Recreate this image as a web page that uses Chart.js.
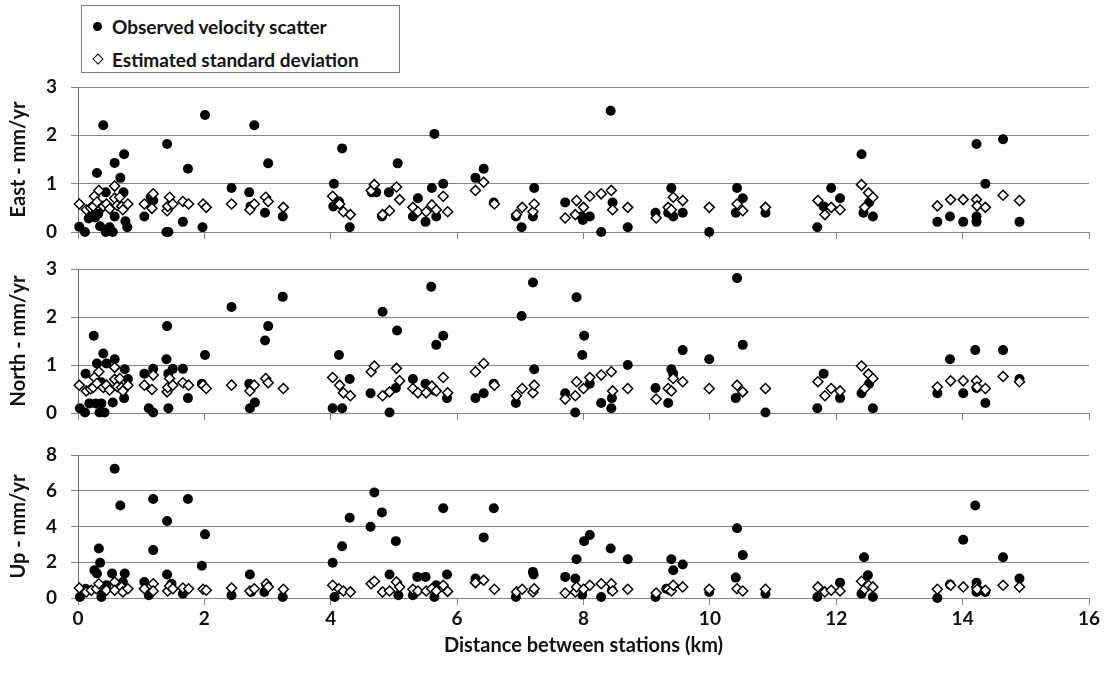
<!DOCTYPE html>
<html>
<head>
<meta charset="utf-8">
<script src="https://cdn.jsdelivr.net/npm/chart.js@4.4.1/dist/chart.umd.min.js"></script>
<style>
  body { margin: 0; background: #fff; width: 1105px; height: 678px; position: relative; overflow: hidden; font-family: Lato, sans-serif; }
  .panel { position: absolute; left: 0; width: 1105px; }
  #legend { position: absolute; left: 81px; top: 5px; width: 319px; height: 68px; border: 1px solid #808080; box-sizing: border-box; font-weight: bold; font-size: 19px; color: #111; }
  .row { position: absolute; left: 30px; line-height: 22px; white-space: nowrap; }
  .dot { position: absolute; left: 11px; width: 9px; height: 9px; border-radius: 50%; background: #000; }
  .dia { position: absolute; left: 12px; width: 6px; height: 6px; border: 1.5px solid #000; background: #fff; transform: rotate(45deg); }
</style>
</head>
<body>
<div id="legend">
  <div class="dot" style="top:16px"></div><div class="row" style="top:10px">Observed velocity scatter</div>
  <div class="dia" style="top:49px"></div><div class="row" style="top:43px">Estimated standard deviation</div>
</div>
<canvas id="east" class="panel" style="top:61px" width="1105" height="197"></canvas>
<canvas id="north" class="panel" style="top:243px" width="1105" height="196"></canvas>
<canvas id="up" class="panel" style="top:429px" width="1105" height="249"></canvas>
<script>
// [distance km, mm/yr]
const eastObs = [
  [0.02,0.11],[0.11,0.0],[0.17,0.28],[0.22,0.35],[0.27,0.30],[0.30,1.22],[0.32,0.38],[0.35,0.12],[0.40,2.21],[0.44,0.82],
  [0.44,0.0],[0.50,0.10],[0.55,0.0],[0.58,1.43],[0.58,0.32],[0.67,1.12],[0.72,0.82],[0.73,1.61],[0.75,0.22],[0.78,0.10],
  [1.05,0.32],[1.15,0.72],[1.19,0.65],[1.40,0.0],[1.43,0.0],[1.41,1.82],[1.66,0.21],[1.74,1.31],[1.97,0.10],[2.01,2.42],
  [2.43,0.91],[2.71,0.82],[2.73,0.53],[2.79,2.21],[2.96,0.40],[3.01,1.42],[3.24,0.32],
  [4.05,1.0],[4.04,0.53],[4.13,0.63],[4.18,1.73],[4.30,0.10],[4.65,0.82],[4.72,0.82],[4.81,0.32],[4.92,0.82],[5.06,1.42],
  [5.30,0.32],[5.38,0.70],[5.50,0.21],[5.60,0.91],[5.64,2.03],[5.67,0.32],[5.78,1.0],
  [6.29,1.12],[6.42,1.31],[6.58,0.61],[6.93,0.32],[7.02,0.10],[7.20,0.32],[7.22,0.91],
  [7.71,0.61],[7.97,0.32],[7.99,0.25],[8.10,0.32],[8.28,0.0],[8.43,2.51],[8.46,0.61],[8.70,0.10],
  [9.14,0.40],[9.34,0.40],[9.39,0.91],[9.42,0.32],[9.57,0.40],[9.99,0.0],
  [10.41,0.40],[10.43,0.91],[10.52,0.70],[10.88,0.40],
  [11.70,0.10],[11.80,0.53],[11.92,0.91],[12.06,0.70],[12.40,1.61],[12.43,0.40],[12.52,0.61],[12.58,0.32],
  [13.60,0.21],[13.80,0.32],[14.01,0.21],[14.22,1.82],[14.22,0.32],[14.22,0.21],[14.36,1.0],[14.64,1.92],[14.90,0.21]
];
const northObs = [
  [0.03,0.10],[0.11,0.01],[0.12,0.82],[0.18,0.20],[0.25,1.61],[0.28,0.20],[0.30,1.03],[0.34,0.01],[0.37,0.20],[0.37,0.64],
  [0.40,1.24],[0.42,0.01],[0.45,1.03],[0.55,0.22],[0.58,1.12],[0.73,0.31],[0.74,0.91],[0.79,0.71],
  [1.05,0.82],[1.12,0.10],[1.19,0.92],[1.19,0.01],[1.40,1.12],[1.41,1.81],[1.43,0.82],[1.43,0.10],[1.50,0.92],[1.66,0.92],
  [1.74,0.31],[1.96,0.61],[2.01,1.21],
  [2.43,2.21],[2.71,0.61],[2.72,0.10],[2.80,0.22],[2.96,1.51],[3.01,1.81],[3.24,2.42],
  [4.03,0.10],[4.13,1.21],[4.18,0.10],[4.30,0.71],[4.63,0.41],[4.82,2.11],[4.93,0.01],[5.03,0.52],[5.05,1.72],
  [5.30,0.71],[5.50,0.61],[5.59,2.63],[5.64,0.47],[5.67,1.42],[5.78,1.61],[5.84,0.31],
  [6.29,0.31],[6.42,0.41],[6.58,0.61],[6.93,0.21],[7.02,2.02],[7.20,2.72],[7.22,0.91],
  [7.71,0.41],[7.87,0.01],[7.89,2.41],[7.98,1.21],[8.01,1.61],[8.10,0.61],[8.28,0.21],[8.44,0.10],[8.45,0.31],[8.70,1.0],
  [9.14,0.52],[9.34,0.21],[9.39,0.91],[9.42,0.82],[9.57,1.31],[9.99,1.12],
  [10.41,0.31],[10.43,2.81],[10.52,1.42],[10.88,0.01],
  [11.70,0.10],[11.80,0.82],[12.06,0.31],[12.40,0.41],[12.52,0.61],[12.58,0.10],
  [13.60,0.41],[13.80,1.12],[14.01,0.41],[14.20,1.31],[14.22,0.52],[14.36,0.21],[14.64,1.31],[14.90,0.71]
];
// estimated standard deviation, horizontal components (same in East and North)
const horizSd = [
  [0.02,0.58],[0.13,0.46],[0.20,0.50],[0.24,0.53],[0.26,0.74],[0.30,0.62],[0.33,0.86],[0.40,0.53],[0.45,0.58],[0.50,0.48],
  [0.58,0.95],[0.58,0.70],[0.62,0.55],[0.66,0.72],[0.69,0.53],[0.71,0.46],[0.79,0.58],
  [1.05,0.58],[1.17,0.49],[1.19,0.79],[1.41,0.44],[1.42,0.53],[1.45,0.72],[1.50,0.58],[1.66,0.63],[1.75,0.58],[1.98,0.58],[2.03,0.51],
  [2.43,0.58],[2.72,0.46],[2.79,0.58],[2.97,0.72],[3.01,0.63],[3.25,0.51],
  [4.03,0.74],[4.14,0.58],[4.20,0.42],[4.31,0.36],[4.64,0.86],[4.69,0.98],[4.82,0.36],[4.93,0.44],[5.04,0.93],[5.09,0.67],
  [5.30,0.51],[5.38,0.42],[5.51,0.42],[5.60,0.56],[5.67,0.46],[5.78,0.74],[5.85,0.42],
  [6.29,0.86],[6.42,1.03],[6.59,0.58],[6.94,0.36],[7.03,0.51],[7.20,0.42],[7.22,0.58],
  [7.71,0.29],[7.87,0.36],[7.89,0.65],[8.00,0.51],[8.10,0.74],[8.28,0.79],[8.44,0.86],[8.46,0.46],[8.70,0.51],
  [9.15,0.29],[9.34,0.51],[9.39,0.46],[9.42,0.72],[9.57,0.65],[9.99,0.51],
  [10.43,0.58],[10.52,0.44],[10.88,0.51],
  [11.71,0.65],[11.82,0.36],[11.92,0.51],[12.06,0.46],[12.40,0.98],[12.45,0.51],[12.51,0.81],[12.58,0.72],
  [13.60,0.54],[13.81,0.67],[14.01,0.67],[14.22,0.67],[14.23,0.54],[14.36,0.51],[14.64,0.76],[14.90,0.65]
];
const upObs = [
  [0.03,0.06],[0.12,0.52],[0.26,1.55],[0.30,1.37],[0.33,2.77],[0.35,1.97],[0.37,0.06],[0.40,0.34],[0.45,0.71],[0.54,1.37],
  [0.58,7.23],[0.67,5.17],[0.71,0.90],[0.74,1.37],[0.76,0.52],
  [1.05,0.90],[1.12,0.15],[1.19,5.54],[1.19,2.68],[1.41,4.31],[1.41,1.31],[1.48,0.80],[1.66,0.24],[1.74,5.54],[1.96,1.80],[2.01,3.56],
  [2.43,0.15],[2.72,1.31],[2.74,0.34],[2.95,0.34],[2.98,0.71],[3.24,0.06],
  [4.03,1.97],[4.06,0.06],[4.18,2.90],[4.30,4.49],[4.63,3.99],[4.69,5.90],[4.81,4.79],[4.93,1.31],[5.03,3.18],[5.07,0.15],
  [5.30,0.15],[5.37,1.18],[5.50,1.18],[5.64,0.06],[5.67,0.71],[5.78,5.02],[5.84,1.31],
  [6.29,1.09],[6.42,3.39],[6.58,5.02],[6.93,0.06],[7.20,1.46],[7.21,1.31],
  [7.71,1.18],[7.87,1.09],[7.89,2.17],[7.98,0.19],[8.01,3.18],[8.10,3.52],[8.28,0.06],[8.43,2.77],[8.45,0.43],[8.70,2.17],
  [9.14,0.06],[9.31,0.52],[9.39,2.17],[9.42,1.55],[9.57,1.87],[9.99,0.34],
  [10.41,1.14],[10.43,3.90],[10.52,2.40],[10.88,0.24],
  [11.70,0.06],[12.06,0.86],[12.40,0.24],[12.44,2.28],[12.50,1.27],[12.58,0.06],
  [13.60,0.0],[13.80,0.75],[14.01,3.26],[14.20,5.17],[14.22,0.86],[14.22,0.34],[14.36,0.34],[14.64,2.28],[14.90,1.09]
];
const upSd = [
  [0.02,0.56],[0.13,0.34],[0.21,0.43],[0.29,0.52],[0.33,0.80],[0.45,0.43],[0.58,0.90],[0.58,0.43],[0.69,0.62],[0.71,0.34],[0.79,0.52],
  [1.05,0.52],[1.19,0.80],[1.19,0.39],[1.42,0.39],[1.45,0.67],[1.50,0.52],[1.66,0.56],[1.75,0.52],[1.98,0.49],[2.03,0.43],
  [2.43,0.56],[2.72,0.39],[2.79,0.52],[2.98,0.80],[3.01,0.62],[3.25,0.49],
  [4.03,0.71],[4.13,0.52],[4.20,0.39],[4.31,0.34],[4.64,0.80],[4.69,0.94],[4.82,0.34],[4.93,0.39],[5.04,0.90],[5.09,0.62],
  [5.30,0.49],[5.38,0.39],[5.51,0.39],[5.60,0.52],[5.67,0.39],[5.78,0.71],[5.85,0.37],
  [6.29,0.86],[6.42,0.99],[6.59,0.49],[6.94,0.34],[7.03,0.49],[7.20,0.34],[7.22,0.52],
  [7.71,0.28],[7.87,0.34],[7.89,0.62],[8.00,0.49],[8.10,0.71],[8.28,0.80],[8.44,0.80],[8.46,0.39],[8.70,0.49],
  [9.15,0.28],[9.34,0.49],[9.39,0.39],[9.42,0.71],[9.57,0.62],[9.99,0.49],
  [10.43,0.52],[10.52,0.39],[10.88,0.49],
  [11.71,0.62],[11.82,0.34],[11.92,0.43],[12.06,0.39],[12.40,0.94],[12.45,0.49],[12.51,0.71],[12.58,0.62],
  [13.60,0.49],[13.81,0.71],[14.01,0.62],[14.22,0.62],[14.23,0.49],[14.36,0.43],[14.64,0.71],[14.90,0.62]
];

const font = 'Lato, sans-serif';
const gridColor = '#868686';

function toXY(pairs) {
  return pairs.map(p => ({ x: p[0], y: p[1] }));
}

// y tick label half height (12) + tick padding (14) = 26px kept above and below each plot
function makePanel(id, yTitle, yMax, yStep, obs, sd, bottom) {
  new Chart(id, {
    type: 'scatter',
    data: {
      datasets: [{
        label: 'Estimated standard deviation',
        data: toXY(sd),
        pointStyle: 'rectRot',
        pointRadius: 5,
        backgroundColor: '#fff',
        borderColor: '#000',
        borderWidth: 1.5,
        clip: false,
        order: 1
      }, {
        label: 'Observed velocity scatter',
        data: toXY(obs),
        pointStyle: 'circle',
        pointRadius: 5,
        backgroundColor: '#000',
        borderColor: '#000',
        borderWidth: 0,
        clip: false,
        order: 2
      }]
    },
    options: {
      responsive: false,
      animation: false,
      layout: { padding: { top: 0, right: 16, left: 0, bottom: 0 } },
      plugins: { legend: { display: false }, tooltip: { enabled: false } },
      scales: {
        x: {
          type: 'linear',
          min: 0,
          max: 16,
          afterFit: s => { s.height = bottom ? 80 : 14; },
          ticks: { display: bottom, stepSize: 2, padding: 2, color: '#111', font: { family: font, size: 19, weight: 'bold' } },
          grid: { drawOnChartArea: false, drawTicks: true, tickLength: 7, color: gridColor },
          border: { color: gridColor },
          title: {
            display: bottom,
            text: 'Distance between stations (km)',
            color: '#111',
            padding: { top: 0, bottom: 20 },
            font: { family: font, size: 20, weight: 'bold' }
          }
        },
        y: {
          min: 0,
          max: yMax,
          afterFit: s => { s.width = 78; },
          ticks: { stepSize: yStep, padding: 14, color: '#111', font: { family: font, size: 19, weight: 'bold', lineHeight: '24px' } },
          grid: { color: gridColor, tickLength: 7 },
          border: { color: '#6a6a6a' },
          title: {
            display: true,
            text: yTitle,
            color: '#111',
            padding: { top: 7, bottom: 0 },
            font: { family: font, size: 20, weight: 'bold' }
          }
        }
      }
    }
  });
}

makePanel('east', 'East - mm/yr', 3, 1, eastObs, horizSd, false);
makePanel('north', 'North - mm/yr', 3, 1, northObs, horizSd, false);
makePanel('up', 'Up - mm/yr', 8, 2, upObs, upSd, true);
</script>
</body>
</html>
